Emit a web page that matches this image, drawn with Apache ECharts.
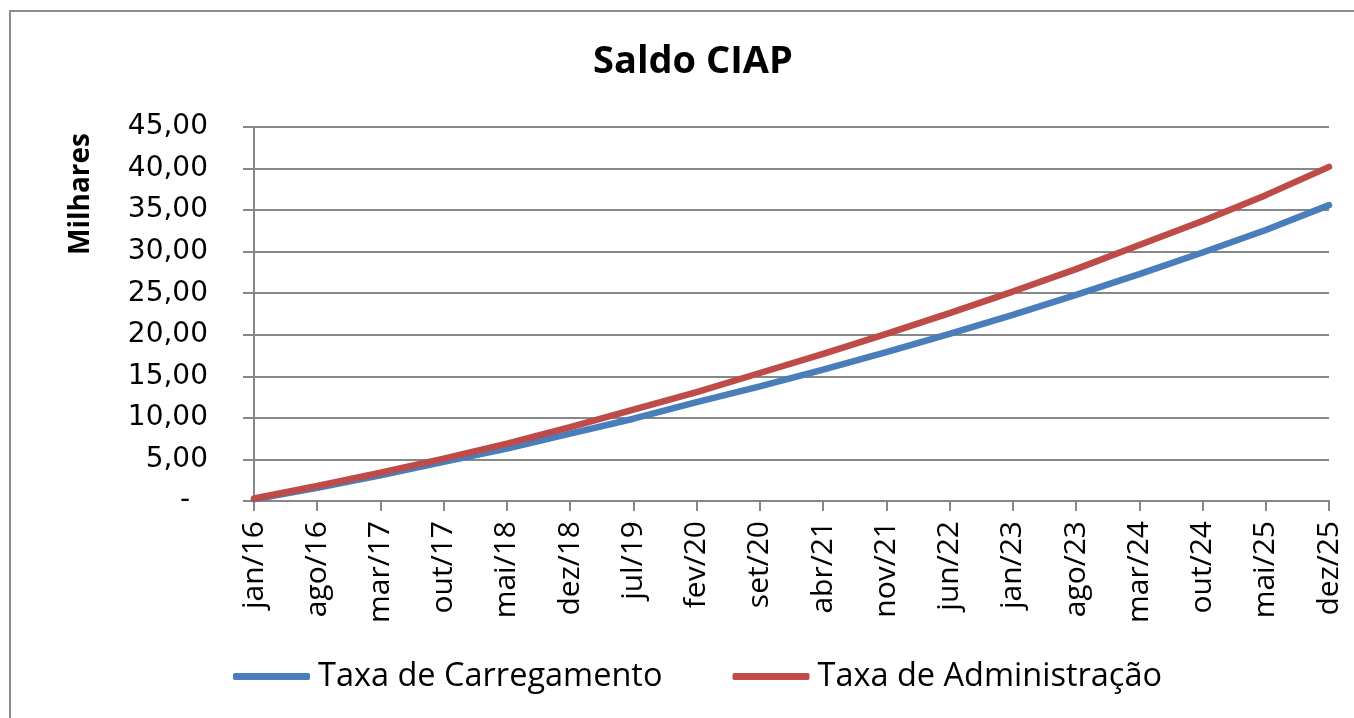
<!DOCTYPE html>
<html>
<head>
<meta charset="utf-8">
<script src="https://cdn.jsdelivr.net/npm/echarts@6/dist/echarts.min.js"></script>
<style>
    html, body { margin: 0; padding: 0; background: #fff; }
    #main { width: 1354px; height: 718px; }
</style>
</head>
<body>
<div id="main"></div>
<script>
// Tick labels on the x axis (every 7 months)
var meses = ['jan/16', 'ago/16', 'mar/17', 'out/17', 'mai/18', 'dez/18', 'jul/19', 'fev/20', 'set/20',
    'abr/21', 'nov/21', 'jun/22', 'jan/23', 'ago/23', 'mar/24', 'out/24', 'mai/25', 'dez/25'];

// Saldo (milhares) read at each labelled month
var taxaCarregamento = [0.2, 1.6, 3.1, 4.7, 6.3, 8.1, 9.9, 11.9, 13.8, 15.8, 17.9, 20.1, 22.4, 24.8, 27.3, 29.9, 32.6, 35.6];
var taxaAdministracao = [0.3, 1.8, 3.4, 5.1, 6.9, 8.9, 11.0, 13.1, 15.4, 17.7, 20.1, 22.6, 25.2, 27.9, 30.8, 33.7, 36.8, 40.2];

var chartDom = document.getElementById('main');
var myChart = echarts.init(chartDom);

var gridColor = '#878787';

var option = {
    animation: false,
    backgroundColor: '#fff',
    title: {
        text: 'Saldo CIAP',
        left: 588,
        top: 38,
        textStyle: { fontFamily: 'Open Sans', fontWeight: 'bold', fontSize: 38, color: '#000' }
    },
    legend: {
        left: 228,
        top: 655,
        icon: 'roundRect',
        itemWidth: 77,
        itemHeight: 7,
        itemGap: 70,
        textStyle: { fontFamily: 'Open Sans', fontSize: 32.5, color: '#000', padding: [0, 0, 0, 3] },
        data: ['Taxa de Carregamento', 'Taxa de Administração']
    },
    graphic: [
        {
            type: 'rect',
            shape: { x: 10, y: 11, width: 1400, height: 760 },
            style: { fill: 'none', stroke: '#8c8c8c', lineWidth: 2 },
            silent: true
        },
        {
            type: 'text',
            x: 81,
            y: 194,
            rotation: Math.PI / 2,
            style: {
                text: 'Milhares',
                fontFamily: 'Open Sans',
                fontWeight: 'bold',
                fontSize: 28,
                fill: '#000',
                align: 'center',
                verticalAlign: 'middle'
            }
        }
    ],
    grid: { left: 254, right: 25, top: 127, bottom: 217 },
    xAxis: {
        type: 'category',
        data: meses,
        boundaryGap: false,
        axisLine: { lineStyle: { color: gridColor, width: 2 } },
        axisTick: { length: 10, lineStyle: { color: gridColor, width: 2 } },
        axisLabel: {
            rotate: 90,
            margin: 20,
            interval: 0,
            fontFamily: 'Open Sans',
            fontSize: 30,
            color: '#000'
        }
    },
    yAxis: {
        type: 'value',
        min: 0,
        max: 45,
        interval: 5,
        axisLine: { show: true, lineStyle: { color: gridColor, width: 2 } },
        axisTick: { show: true, length: 11, lineStyle: { color: gridColor, width: 2 } },
        splitLine: { lineStyle: { color: gridColor, width: 2 } },
        axisLabel: {
            margin: 46,
            fontFamily: 'DejaVu Sans',
            fontSize: 28,
            color: '#000',
            formatter: function (v) {
                return v === 0 ? '-  ' : v.toFixed(2).replace('.', ',');
            }
        }
    },
    series: [
        {
            name: 'Taxa de Carregamento',
            type: 'line',
            data: taxaCarregamento,
            showSymbol: false,
            color: '#4A7EBB',
            lineStyle: { width: 6.5, cap: 'round' }
        },
        {
            name: 'Taxa de Administração',
            type: 'line',
            data: taxaAdministracao,
            showSymbol: false,
            color: '#BE4B48',
            lineStyle: { width: 6.5, cap: 'round' }
        }
    ]
};

myChart.setOption(option);
</script>
</body>
</html>
